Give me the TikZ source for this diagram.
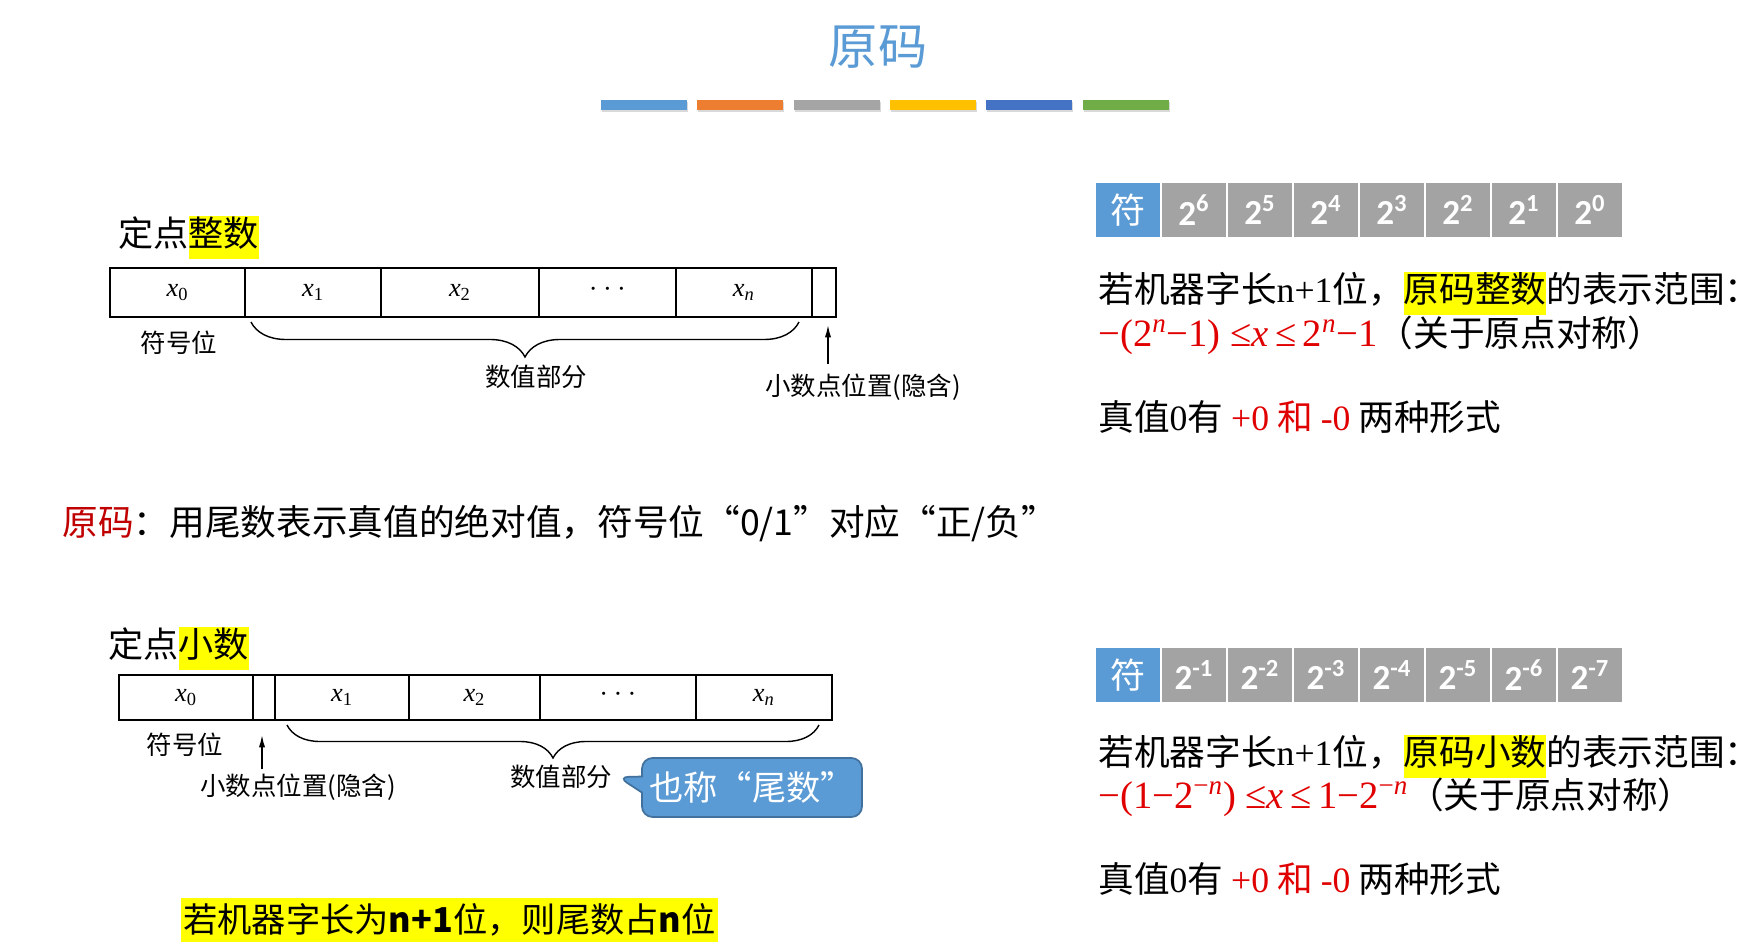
\documentclass[tikz,border=0pt]{standalone}
\usepackage{fontspec}
\setmainfont{Noto Sans CJK SC}
\newfontfamily\tnr{Liberation Serif}
\newfontfamily\calibri{Carlito}
\usepackage{xcolor}
\usetikzlibrary{arrows.meta,positioning,decorations.pathreplacing,shapes.callouts,shadows}

\definecolor{titleblue}{HTML}{5B9BD5}
\definecolor{barorange}{HTML}{ED7D31}
\definecolor{bargray}{HTML}{A5A5A5}
\definecolor{bargold}{HTML}{FFC000}
\definecolor{bardblue}{HTML}{4472C4}
\definecolor{bargreen}{HTML}{70AD47}
\definecolor{cellgray}{HTML}{A3A3A3}
\definecolor{rangered}{HTML}{E00000}
\definecolor{darkred}{HTML}{C00000}
\definecolor{hlyellow}{HTML}{FFFF00}
\definecolor{calloutedge}{HTML}{41719C}

\newcommand\hl[1]{{\setlength\fboxsep{0pt}\colorbox{hlyellow}{\strut#1}}}

\begin{document}
\begin{tikzpicture}[
    x=0.02cm, y=-0.02cm,
    cell/.style={draw, line width=0.8pt, minimum height=0.98cm, inner sep=0pt, outer sep=0pt,
                 font=\tnr\itshape\fontsize{15}{18}\selectfont},
    powcell/.style={fill=cellgray, text=white, minimum width=1.28cm, minimum height=1.08cm,
                    inner sep=0pt, outer sep=0pt, font=\calibri\bfseries\fontsize{20}{24}\selectfont},
    signcell/.style={powcell, fill=titleblue, font=\fontsize{20}{24}\selectfont},
    lbl/.style={font=\fontsize{14.5}{17}\selectfont},
    head/.style={anchor=base west, inner sep=0pt, font=\fontsize{20}{24}\selectfont},
    rtext/.style={anchor=base west, inner sep=0pt, font=\fontsize{20.3}{24}\selectfont},
    bar/.style={drop shadow={opacity=0.3, shadow xshift=0.6pt, shadow yshift=-1pt}},
    numbrace/.style={decorate, decoration={brace, mirror, amplitude=0.7cm}, line width=0.8pt},
    arrow/.style={-{Latex[length=7pt,width=3.5pt]}, line width=0.8pt}
]
    \useasboundingbox (0,0) rectangle (1758,950);

    % title and colour strip
    \node[font=\fontsize{28}{34}\selectfont, text=titleblue, anchor=base] (title) at (878,64) {原码};
    \fill[titleblue, bar] (601,100) rectangle (687,110);
    \fill[barorange, bar] (697,100) rectangle (783,110);
    \fill[bargray, bar] (794,100) rectangle (880,110);
    \fill[bargold, bar] (890,100) rectangle (976,110);
    \fill[bardblue, bar] (986,100) rectangle (1072,110);
    \fill[bargreen, bar] (1083,100) rectangle (1169,110);

    % fixed-point integer
    \node[head] (intHead) at (118,246) {定点\hl{整数}};
    \node[cell, minimum width=2.70cm, anchor=west] (iT0) at (110,292.5) {x\textsubscript{\upshape 0}};
    \node[cell, minimum width=2.72cm, right=0pt of iT0] (iT1) {x\textsubscript{\upshape 1}};
    \node[cell, minimum width=3.16cm, right=0pt of iT1] (iT2) {x\textsubscript{\upshape 2}};
    \node[cell, minimum width=2.74cm, right=0pt of iT2] (iT3) {\upshape ·\hspace{3pt}·\hspace{3pt}·};
    \node[cell, minimum width=2.72cm, right=0pt of iT3] (iT4) {x\textsubscript{n}};
    \node[cell, minimum width=0.48cm, right=0pt of iT4] (iT5) {};
    \node[lbl] (signlblT) at (179,343) {符号位};
    \coordinate (braceTL) at (251,322);
    \coordinate (braceTR) at (799,322);
    \draw[numbrace] (braceTL) -- (braceTR);
    \node[lbl] (numlblT) at (536,377) {数值部分};
    \node[lbl] (dotlblT) at (863,387) {小数点位置(隐含)};
    \coordinate (dotT) at (828,325);
    \draw[arrow, shorten <=2pt] (dotlblT.north -| dotT) -- (dotT);

    \node[font=\fontsize{20.3}{24}\selectfont, anchor=base west, inner sep=0pt] (defline) at (62,535)
        {\textcolor{darkred}{原码}：用尾数表示真值的绝对值，符号位“0/1”对应“正/负”};

    % fixed-point fraction
    \node[head] (fracHead) at (108,657) {定点\hl{小数}};
    \node[cell, minimum height=0.9cm, minimum width=2.68cm, anchor=west] (fB0) at (119,697.5) {x\textsubscript{\upshape 0}};
    \node[cell, minimum height=0.9cm, minimum width=0.44cm, right=0pt of fB0] (fB1) {};
    \node[cell, minimum height=0.9cm, minimum width=2.68cm, right=0pt of fB1] (fB2) {x\textsubscript{\upshape 1}};
    \node[cell, minimum height=0.9cm, minimum width=2.62cm, right=0pt of fB2] (fB3) {x\textsubscript{\upshape 2}};
    \node[cell, minimum height=0.9cm, minimum width=3.12cm, right=0pt of fB3] (fB4) {\upshape ·\hspace{3pt}·\hspace{3pt}·};
    \node[cell, minimum height=0.9cm, minimum width=2.72cm, right=0pt of fB4] (fB5) {x\textsubscript{n}};
    \node[lbl] (signlblB) at (185,745) {符号位};
    \node[lbl] (dotlblB) at (298,787) {小数点位置(隐含)};
    \coordinate (dotB) at (262,735);
    \draw[arrow, shorten <=-1pt] (dotlblB.north -| dotB) -- (dotB);
    \coordinate (braceBL) at (287,725);
    \coordinate (braceBR) at (819,725);
    \draw[numbrace, decoration={amplitude=0.66cm}] (braceBL) -- (braceBR);
    \node[lbl] (numlblB) at (561,777) {数值部分};
    \node[rectangle callout, fill=titleblue, draw=calloutedge, line width=1pt, rounded corners=6pt,
          text=white, minimum width=4.4cm, minimum height=1.18cm, callout pointer width=0.32cm,
          callout absolute pointer={(numlblB.east)}, font=\fontsize{19.5}{23}\selectfont]
          (tailcallout) at (752,787.5) {也称“尾数”};

    \node[fill=hlyellow, inner sep=0pt, minimum width=10.74cm, minimum height=0.88cm,
          font=\fontsize{19.5}{23}\selectfont] (tailnote) at (449.5,920)
        {若机器字长为{\bfseries n+1}位，则尾数占{\bfseries n}位};

    % integer weights
    \node[signcell] (wT0) at (1128,210) {符};
    \node[powcell, right=0.04cm of wT0] (wT1) {2\textsuperscript{6}};
    \node[powcell, right=0.04cm of wT1] (wT2) {2\textsuperscript{5}};
    \node[powcell, right=0.04cm of wT2] (wT3) {2\textsuperscript{4}};
    \node[powcell, right=0.04cm of wT3] (wT4) {2\textsuperscript{3}};
    \node[powcell, right=0.04cm of wT4] (wT5) {2\textsuperscript{2}};
    \node[powcell, right=0.04cm of wT5] (wT6) {2\textsuperscript{1}};
    \node[powcell, right=0.04cm of wT6] (wT7) {2\textsuperscript{0}};

    \node[rtext] (rangeT1) at (1098,302) {若机器字长{\tnr n+1}位，\hl{原码整数}的表示范围：};
    \node[rtext] (rangeT2) at (1098,346)
        {\textcolor{rangered}{\tnr\fontsize{22}{26}\selectfont −(2\textsuperscript{\itshape n}−1)\ ≤{\itshape x}\,≤\,2\textsuperscript{\itshape n}−1}（关于原点对称）};
    \node[rtext] (zeroT) at (1098,430) {真值{\tnr 0}有 \textcolor{rangered}{{\tnr +0} 和 {\tnr -0}} 两种形式};

    % fraction weights
    \node[signcell] (wB0) at (1128,675) {符};
    \node[powcell, right=0.04cm of wB0] (wB1) {2\textsuperscript{-1}};
    \node[powcell, right=0.04cm of wB1] (wB2) {2\textsuperscript{-2}};
    \node[powcell, right=0.04cm of wB2] (wB3) {2\textsuperscript{-3}};
    \node[powcell, right=0.04cm of wB3] (wB4) {2\textsuperscript{-4}};
    \node[powcell, right=0.04cm of wB4] (wB5) {2\textsuperscript{-5}};
    \node[powcell, right=0.04cm of wB5] (wB6) {2\textsuperscript{-6}};
    \node[powcell, right=0.04cm of wB6] (wB7) {2\textsuperscript{-7}};

    \node[rtext] (rangeB1) at (1098,765) {若机器字长{\tnr n+1}位，\hl{原码小数}的表示范围：};
    \node[rtext] (rangeB2) at (1098,808)
        {\textcolor{rangered}{\tnr\fontsize{22}{26}\selectfont −(1−2\textsuperscript{−\itshape n})\ ≤{\itshape x}\,≤\,1−2\textsuperscript{−\itshape n}}（关于原点对称）};
    \node[rtext] (zeroB) at (1098,892) {真值{\tnr 0}有 \textcolor{rangered}{{\tnr +0} 和 {\tnr -0}} 两种形式};
\end{tikzpicture}
\end{document}
